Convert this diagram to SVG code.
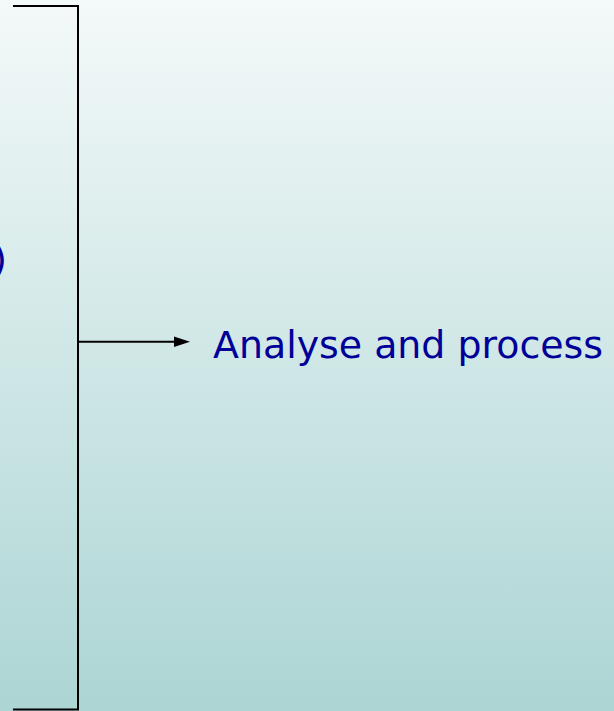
<svg xmlns="http://www.w3.org/2000/svg" width="614" height="711" viewBox="0 0 614 711">
  <defs>
    <linearGradient id="bg" x1="0" y1="0" x2="0" y2="1">
      <stop offset="0" stop-color="#f4f9f9"/>
      <stop offset="1" stop-color="#acd5d4"/>
    </linearGradient>
  </defs>
  <style>
    .ln { stroke: #000; stroke-width: 2; fill: none; }
    .lbl { font-family: "Comic Sans MS", "DejaVu Sans", sans-serif; font-size: 37px; fill: #000099; }
  </style>
  <rect x="0" y="0" width="614" height="711" fill="url(#bg)"/>
  <g id="paren">
    <text class="lbl" x="7" y="273" text-anchor="end">)</text>
  </g>
  <g id="bracket">
    <polyline class="ln" points="13,6 78,6 78,709.5 13,709.5"/>
  </g>
  <g id="connectors">
    <line class="ln" x1="78" y1="341.7" x2="176" y2="341.7"/>
    <polygon points="174,336.5 190,341.7 174,347" fill="#000"/>
  </g>
  <g id="analyse">
    <text class="lbl" x="213" y="357.7" textLength="390" lengthAdjust="spacingAndGlyphs">Analyse and process</text>
  </g>
</svg>
